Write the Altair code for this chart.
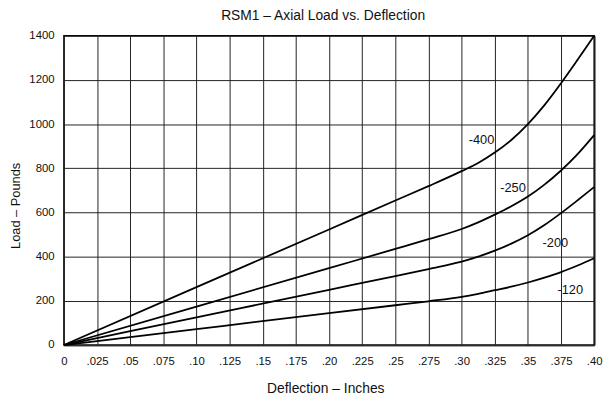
import altair as alt
import pandas as pd

# ---- data ----
deflection = [0, 0.1, 0.2, 0.25, 0.275, 0.30, 0.3125, 0.325, 0.3375, 0.35,
              0.3625, 0.375, 0.3875, 0.40]
load_400 = [0, 262, 523, 654, 719, 787, 824, 871, 928, 1000, 1086, 1185, 1291, 1400]
load_250 = [0, 174, 348, 435, 479, 525, 555, 590, 628, 672, 726, 790, 864, 950]
load_200 = [0, 125, 250, 312, 344, 377, 400, 427, 459, 497, 543, 597, 655, 715]
load_120 = [0, 72, 144, 180, 198, 218, 232, 248, 264, 283, 305, 330, 360, 393]

series_names = ["-400", "-250", "-200", "-120"]
series_values = [load_400, load_250, load_200, load_120]

label_x = [0.3053, 0.3291, 0.3611, 0.3723]
label_y = [928, 712, 460, 250]

x_ticks = [0, 0.025, 0.05, 0.075, 0.10, 0.125, 0.15, 0.175, 0.20, 0.225,
           0.25, 0.275, 0.30, 0.325, 0.35, 0.375, 0.40]
x_tick_labels = ["0", ".025", ".05", ".075", ".10", ".125", ".15", ".175", ".20",
                 ".225", ".25", ".275", ".30", ".325", ".35", ".375", ".40"]
y_ticks = [0, 200, 400, 600, 800, 1000, 1200, 1400]

FONT = "Liberation Sans"

rows = []
for name, vals in zip(series_names, series_values):
    for i, (x, y) in enumerate(zip(deflection, vals)):
        rows.append({"series": name, "x": x, "y": y, "order": i})
df = pd.DataFrame(rows)

labels_df = pd.DataFrame({"x": label_x, "y": label_y, "text": series_names})

label_expr = "[" + ",".join("'%s'" % s for s in x_tick_labels) + "][round(datum.value / 0.025)]"

x_scale = alt.Scale(domain=[0, 0.4], nice=False, zero=False)
y_scale = alt.Scale(domain=[0, 1400], nice=False)

x_axis = alt.Axis(values=x_ticks, labelExpr=label_expr, grid=True,
                  title="Deflection – Inches",
                  titleX=265, titleY=48, titleBaseline="alphabetic",
                  titleAnchor="start", titleAlign="center",
                  domain=False, ticks=False, tickSize=0,
                  labelPadding=11, labelFontSize=11.5, labelFont=FONT,
                  labelColor="#111", titleFont=FONT, titleFontSize=14,
                  titleFontWeight="normal", titleColor="#111",
                  labelFlush=False, labelOverlap=False)
y_axis = alt.Axis(values=y_ticks, format="d", grid=True, title="Load – Pounds",
                  titleX=-49, titleY=172, titleAngle=-90,
                  titleBaseline="middle", titleAlign="center",
                  titleAnchor="start",
                  domain=False, ticks=False, tickSize=0,
                  labelPadding=10, labelFontSize=11.5, labelFont=FONT,
                  labelColor="#111", titleFont=FONT, titleFontSize=13,
                  titleFontWeight="normal", titleColor="#111",
                  labelFlush=False, labelOverlap=False)

lines = alt.Chart(df).mark_line(
    color="black", strokeWidth=1.8, interpolate="monotone"
).encode(
    x=alt.X("x:Q", scale=x_scale, axis=x_axis),
    y=alt.Y("y:Q", scale=y_scale, axis=y_axis),
    detail="series:N",
    order="order:Q",
)

texts = alt.Chart(labels_df).mark_text(
    align="left", baseline="middle", font=FONT, fontSize=13, color="#111"
).encode(
    x=alt.X("x:Q", scale=x_scale, axis=x_axis),
    y=alt.Y("y:Q", scale=y_scale, axis=y_axis),
    text="text:N",
)

chart = alt.layer(lines, texts).properties(
    width=537.6,
    height=313.6,
    padding={"left": 56.7, "top": 25.4, "right": 12, "bottom": 50},
    autosize=alt.AutoSizeParams(type="none"),
    title=alt.TitleParams("RSM1 – Axial Load vs. Deflection", font=FONT,
                          fontSize=14, fontWeight="normal", color="#111",
                          anchor="middle", dx=-6, offset=7),
    background="white",
).configure_view(
    stroke="black", strokeWidth=1.5
).configure_axis(
    gridColor="#222", gridWidth=1, gridOpacity=1
)

chart.save("out.html", embed_options={"renderer": "svg", "actions": False})
